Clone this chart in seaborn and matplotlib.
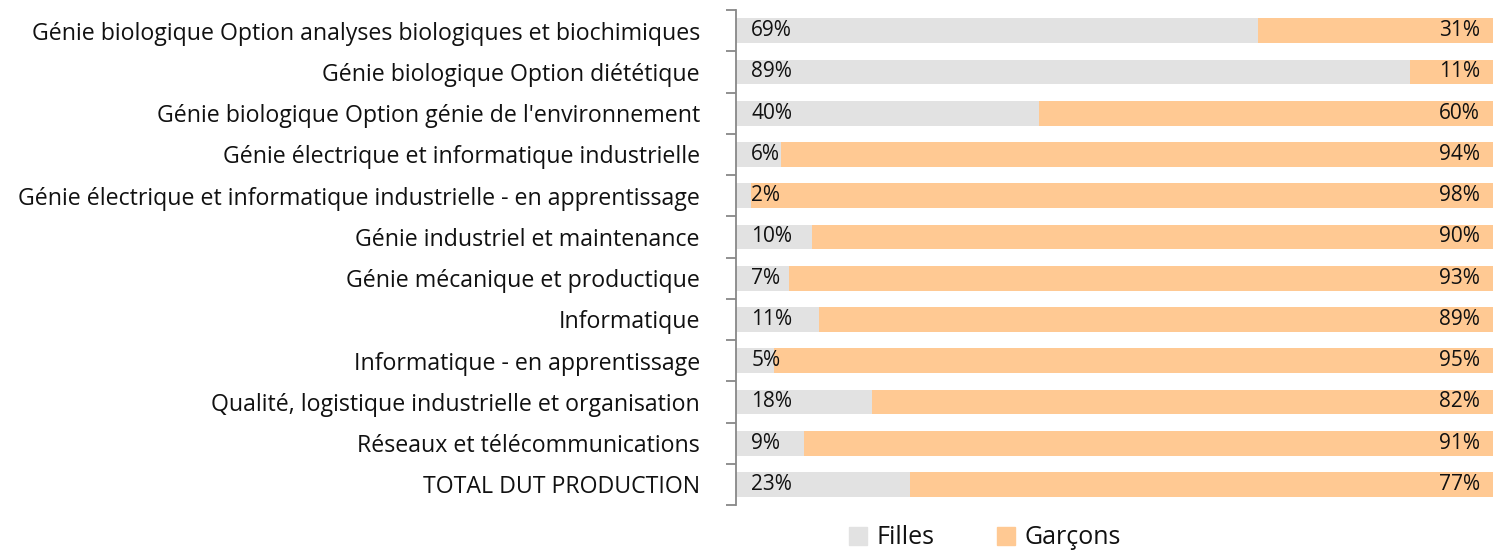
import matplotlib
matplotlib.use("Agg")
import matplotlib.pyplot as plt
import seaborn as sns
import pandas as pd
from matplotlib.patches import Patch

categories = [
    "Génie biologique Option analyses biologiques et biochimiques",
    "Génie biologique Option diététique",
    "Génie biologique Option génie de l'environnement",
    "Génie électrique et informatique industrielle",
    "Génie électrique et informatique industrielle - en apprentissage",
    "Génie industriel et maintenance",
    "Génie mécanique et productique",
    "Informatique",
    "Informatique - en apprentissage",
    "Qualité, logistique industrielle et organisation",
    "Réseaux et télécommunications",
    "TOTAL DUT PRODUCTION",
]
filles = [69, 89, 40, 6, 2, 10, 7, 11, 5, 18, 9, 23]
garcons = [31, 11, 60, 94, 98, 90, 93, 89, 95, 82, 91, 77]

grey = "#E2E2E2"
orange = "#FFC993"

sns.set_theme(style="white")
plt.rcParams['font.family'] = ['Open Sans', 'DejaVu Sans']

df = pd.DataFrame({"cat": categories, "filles": filles, "garcons": garcons})
df["total"] = df["filles"] + df["garcons"]

fig = plt.figure(figsize=(14.95, 5.5), dpi=100)
ax = fig.add_axes([736/1495, 1-505/550, (1493-736)/1495, (505-10)/550])

sns.barplot(data=df, y="cat", x="total", color=orange, width=0.6, ax=ax,
            saturation=1, orient="h", linewidth=0)
sns.barplot(data=df, y="cat", x="filles", color=grey, width=0.6, ax=ax,
            saturation=1, orient="h", linewidth=0)

ax.set_xlim(0, 100)
ax.set_ylim(len(categories) - 0.5, -0.5)
ax.set_xlabel("")
ax.set_ylabel("")
ax.set_xticks([])

for i, (f, g, t) in enumerate(zip(filles, garcons, df["total"])):
    ax.text(2.0, i, f"{f}%", va="center", ha="left", fontsize=15, color="#111111")
    ax.text(t - 1.7, i, f"{g}%", va="center", ha="right", fontsize=15, color="#111111")

for s in ["top", "right", "bottom"]:
    ax.spines[s].set_visible(False)
ax.spines["left"].set_color("#888888")
ax.spines["left"].set_linewidth(1.3)

ax.set_yticks(range(len(categories)))
ax.set_yticklabels(categories, fontsize=16.7, color="#111111")
ax.tick_params(axis="y", length=0, pad=26)
ax.set_yticks([i - 0.5 for i in range(len(categories) + 1)], minor=True)
ax.tick_params(axis="y", which="minor", length=7, width=1.3, color="#888888", left=True)

handles = [Patch(color=grey, label="Filles"), Patch(color=orange, label="Garçons")]
fig.legend(handles=handles, loc="center", bbox_to_anchor=(985/1495, 1-538/550),
           ncol=2, frameon=False, fontsize=18, labelcolor="#111111",
           handlelength=0.7, handleheight=0.7,
           handletextpad=0.4, columnspacing=2.5)

fig.savefig("out.png", dpi=100)
